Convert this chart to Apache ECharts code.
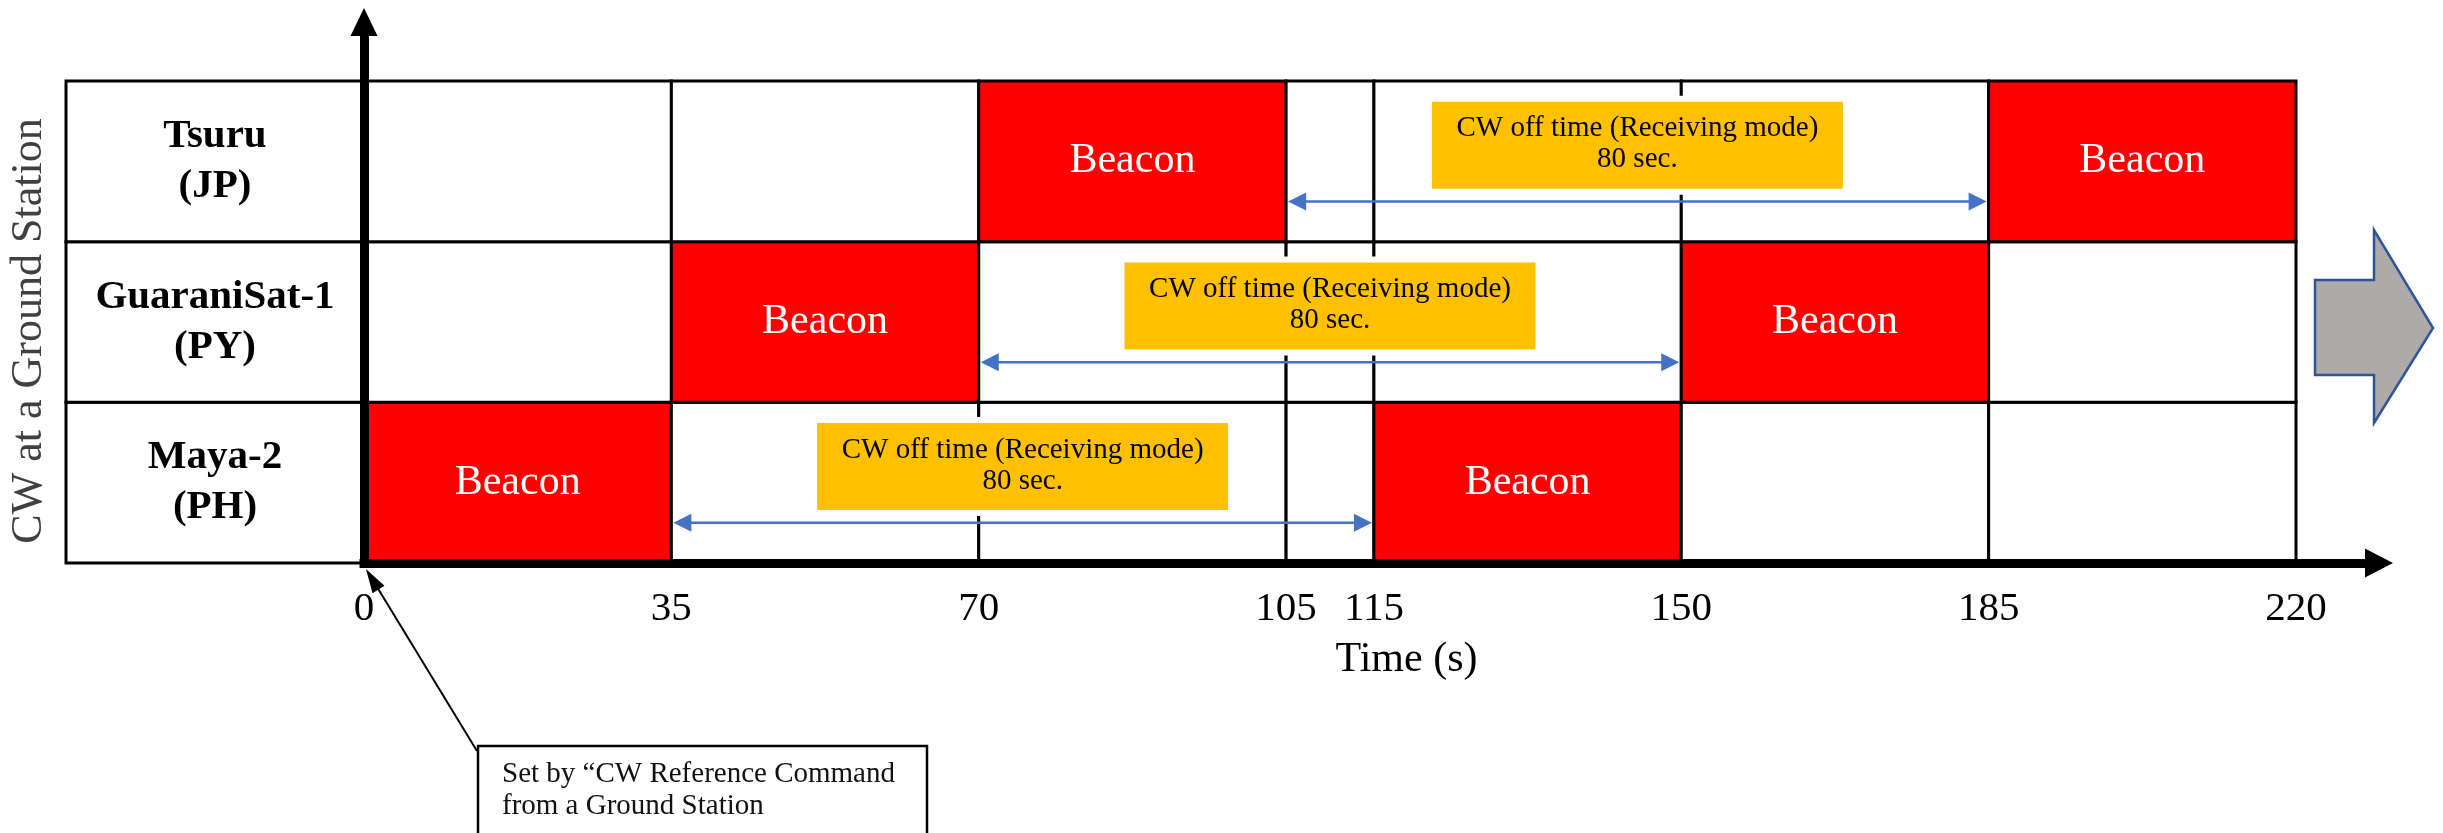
<!DOCTYPE html>
<html><head><meta charset="utf-8">
<script src="https://cdn.jsdelivr.net/npm/echarts@6/dist/echarts.min.js"></script>
<style>html,body{margin:0;padding:0;background:#fff}#c{width:2443px;height:833px}</style>
</head><body><div id="c"></div>
<script>
// ---- data ----
const satellites = ['Maya-2', 'GuaraniSat-1', 'Tsuru'];   // bottom row to top row
const countryCodes = ['PH', 'PY', 'JP'];
const timeTicks = [0, 35, 70, 105, 115, 150, 185, 220];
const beaconStarts = [[0, 115], [35, 150], [70, 185]];     // per satellite
const beaconLength = 35;
const offStart = [35, 70, 105];
const offEnd = [115, 150, 185];
const offLabel = 'CW off time (Receiving mode)';
const referenceNote = ['Set by \u201CCW Reference Command', 'from a Ground Station'];
const xTitle = 'Time (s)';
const yTitle = 'CW at a Ground Station';

// ---- build series data ----
const cellData = [];
satellites.forEach((s, r) => {
  for (let i = 0; i < timeTicks.length - 1; i++) {
    const a = timeTicks[i], b = timeTicks[i + 1];
    const isBeacon = beaconStarts[r].some(st => a >= st && b <= st + beaconLength) ? 1 : 0;
    cellData.push([a, b, r, isBeacon]);
  }
});
const rowData = satellites.map((s, r) => [0, r]);
const offData = offStart.map((s, r) => [s, offEnd[r], r]);

const SERIF = '"Liberation Serif", "Times New Roman", serif';
const BLUE = '#4472C4';

function renderCell(params, api) {
  const s = api.value(0), e = api.value(1), r = api.value(2), b = api.value(3);
  const p0 = api.coord([s, r + 1]), p1 = api.coord([e, r]);
  const children = [{
    type: 'rect',
    shape: { x: p0[0], y: p0[1], width: p1[0] - p0[0], height: p1[1] - p0[1] },
    style: { fill: b ? '#FF0000' : '#FFFFFF', stroke: '#000', lineWidth: 3 }
  }];
  if (b) {
    children.push({
      type: 'text', x: (p0[0] + p1[0]) / 2, y: (p0[1] + p1[1]) / 2, z2: 5,
      style: { text: 'Beacon', fill: '#fff', font: '42px ' + SERIF, align: 'center', verticalAlign: 'middle' }
    });
  }
  return { type: 'group', children };
}

function renderRow(params, api) {
  const r = api.value(1);
  const top = api.coord([0, r + 1]), bot = api.coord([0, r]);
  const x1 = top[0], x0 = x1 - 298;
  return { type: 'group', children: [
    { type: 'rect', shape: { x: x0, y: top[1], width: x1 - x0, height: bot[1] - top[1] },
      style: { fill: '#fff', stroke: '#000', lineWidth: 3 } },
    { type: 'text', x: (x0 + x1) / 2, y: (top[1] + bot[1]) / 2,
      style: { text: satellites[r] + '\n(' + countryCodes[r] + ')', font: 'bold 41px ' + SERIF,
        fill: '#000', align: 'center', verticalAlign: 'middle', lineHeight: 50 } }
  ]};
}

function renderOff(params, api) {
  const s = api.value(0), e = api.value(1), r = api.value(2);
  const a = api.coord([s, r + 0.25]), b = api.coord([e, r + 0.25]);
  const y = a[1], x0 = a[0] + 2, x1 = b[0] - 2;
  const mid = api.coord([(s + e) / 2, r + 0.6]);
  const bw = 411, bh = 87;
  return { type: 'group', children: [
    { type: 'line', shape: { x1: x0 + 14, y1: y, x2: x1 - 14, y2: y }, style: { stroke: BLUE, lineWidth: 2.5 } },
    { type: 'polygon', shape: { points: [[x0, y], [x0 + 18, y - 9], [x0 + 18, y + 9]] }, style: { fill: BLUE } },
    { type: 'polygon', shape: { points: [[x1, y], [x1 - 18, y - 9], [x1 - 18, y + 9]] }, style: { fill: BLUE } },
    { type: 'rect', shape: { x: mid[0] - bw / 2 - 3, y: mid[1] - bh / 2 - 3, width: bw + 6, height: bh + 6 },
      style: { fill: '#FFC000', stroke: '#fff', lineWidth: 6 } },
    { type: 'text', x: mid[0], y: mid[1] - 1,
      style: { text: offLabel + '\n' + (e - s) + ' sec.', font: '29px ' + SERIF, fill: '#000',
        align: 'center', verticalAlign: 'middle', lineHeight: 31 } }
  ]};
}

function renderNote(params, api) {
  const o = api.coord([api.value(0), api.value(1)]);
  const tip = [o[0] + 2, o[1] + 6];
  const end = [o[0] + 113, o[1] + 188];
  const dx = end[0] - tip[0], dy = end[1] - tip[1];
  const L = Math.sqrt(dx * dx + dy * dy), ux = dx / L, uy = dy / L, px = -uy, py = ux;
  const hl = 24, hw = 7;
  const bx = tip[0] + ux * hl, by = tip[1] + uy * hl;
  return { type: 'group', children: [
    { type: 'line', shape: { x1: bx - ux * 4, y1: by - uy * 4, x2: end[0], y2: end[1] }, style: { stroke: '#000', lineWidth: 2 } },
    { type: 'polygon', shape: { points: [tip, [bx + px * hw, by + py * hw], [bx - px * hw, by - py * hw]] }, style: { fill: '#000' } },
    { type: 'rect', shape: { x: o[0] + 114, y: o[1] + 183, width: 449, height: 110 },
      style: { fill: '#fff', stroke: '#000', lineWidth: 2.5 } },
    { type: 'text', x: o[0] + 138, y: o[1] + 195,
      style: { text: referenceNote.join('\n'), font: '29px ' + SERIF, fill: '#111',
        align: 'left', verticalAlign: 'top', lineHeight: 32 } }
  ]};
}

const chart = echarts.init(document.getElementById('c'), null, { renderer: 'canvas' });
chart.setOption({
  animation: false,
  backgroundColor: '#fff',
  grid: { left: 364, right: 64, top: 22, bottom: 270 },
  xAxis: {
    type: 'value', min: 0, max: 229.45, z: 10,
    axisLine: { show: true, onZero: true, lineStyle: { color: '#000', width: 9, cap: 'square' },
      symbol: ['none', 'triangle'], symbolSize: [29, 28] },
    axisTick: { show: false }, splitLine: { show: false },
    axisLabel: { customValues: timeTicks, margin: 26, fontSize: 41, fontFamily: SERIF, color: '#000' },
    name: xTitle, nameLocation: 'middle', nameGap: 76,
    nameTextStyle: { fontSize: 42, fontFamily: SERIF, color: '#000', padding: [0, 0, 0, 70] }
  },
  yAxis: {
    type: 'value', min: 0, max: 3.367, z: 10,
    axisLine: { show: true, onZero: true, lineStyle: { color: '#000', width: 9, cap: 'square' },
      symbol: ['none', 'triangle'], symbolSize: [27, 28] },
    axisTick: { show: false }, axisLabel: { show: false }, splitLine: { show: false }
  },
  graphic: [
    { type: 'text', x: 29, y: 331, rotation: Math.PI / 2,
      style: { text: yTitle, font: '44px ' + SERIF, fill: '#404040', align: 'center', verticalAlign: 'middle' } },
    { type: 'polygon', shape: { points: [[2315, 280], [2374, 280], [2374, 230], [2433, 328], [2374, 423], [2374, 375], [2315, 375]] },
      style: { fill: '#AEAAAA', stroke: '#2F5597', lineWidth: 2.5 } }
  ],
  series: [
    { type: 'custom', name: 'cells', renderItem: renderCell, data: cellData, z: 2,
      encode: { x: [0, 1], y: 2 }, clip: false, silent: true },
    { type: 'custom', name: 'rows', renderItem: renderRow, data: rowData, z: 2,
      encode: { x: 0, y: 1 }, clip: false, silent: true },
    { type: 'custom', name: 'off', renderItem: renderOff, data: offData, z: 3,
      encode: { x: [0, 1], y: 2 }, clip: false, silent: true },
    { type: 'custom', name: 'note', renderItem: renderNote, data: [[0, 0]], z: 12,
      encode: { x: 0, y: 1 }, clip: false, silent: true }
  ]
});
</script></body></html>
